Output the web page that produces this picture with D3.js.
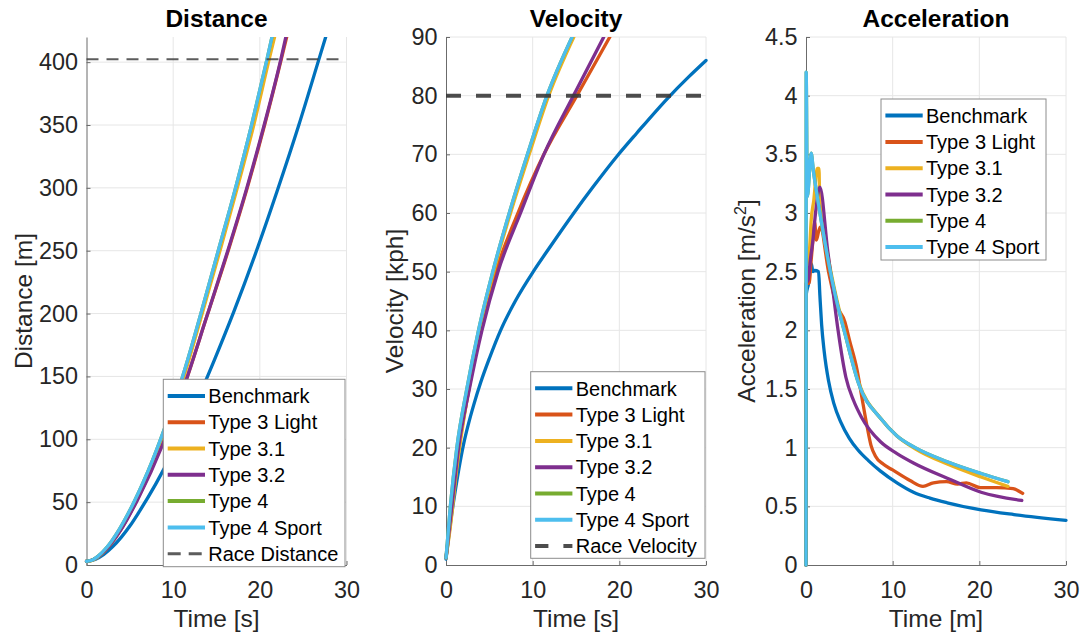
<!DOCTYPE html>
<html>
<head>
<meta charset="utf-8">
<script src="https://cdn.jsdelivr.net/npm/d3@7"></script>
<style>
  body { margin: 0; background: #fff; }
  svg { display: block; }
  text { font-family: "Liberation Sans", Arial, Helvetica, sans-serif; }
</style>
</head>
<body>
<svg id="chart" width="1083" height="637"></svg>
<script>
// ---- series ----
const seriesNames = ["Benchmark", "Type 3 Light", "Type 3.1", "Type 3.2", "Type 4", "Type 4 Sport"];
const seriesColors = ["#0072BD", "#D95319", "#EDB120", "#7E2F8E", "#77AC30", "#4DBEEE"];

// ---- tick values ----
const timeTicks = [0, 10, 20, 30];
const distTicks = [0, 50, 100, 150, 200, 250, 300, 350, 400];
const velTicks = [0, 10, 20, 30, 40, 50, 60, 70, 80, 90];
const accTicks = [0, 0.5, 1, 1.5, 2, 2.5, 3, 3.5, 4, 4.5];

// ---- reference targets ----
const raceDistance = 402.3;   // m
const raceVelocity = 80;      // kph

// ---- distance [m] vs time [s] ----
const distBenchmark = [[0,3],[1,4.5],[2,8.5],[3,14.5],[4,22],[5,31],[6,41.5],[8,64.5],[10.7,100],[12,119],[14.75,163],[17,201.5],[19.8,253.5],[22,297.5],[24.5,350],[26.85,403],[27.6,420]];
const distType3Light = [[0,3],[0.68,4],[1.45,7.1],[2.65,15.3],[3.95,28],[5.7,50],[8.4,91],[11.3,143],[13.85,197],[16.35,250],[18.55,300],[20.55,350],[22.5,403],[23.1,420]];
const distType31 = [[0,3],[0.5,3.3],[1.25,6],[2.4,13.8],[3.8,27.5],[5.5,49],[7.7,83],[9.7,119],[11.2,149],[13.35,200],[15.4,250],[17.4,300],[19.3,350],[21.1,403],[21.7,420]];
const distType32 = [[0,3],[0.68,4],[1.45,7.3],[2.7,16],[4.15,30],[5.9,52],[8.8,96],[11.3,143],[13.8,196],[16.3,250],[18.5,300],[20.5,350],[22.45,403],[23.0,420]];
const distType4 = [[0,3],[0.5,3.4],[1.25,6.5],[2.4,14.5],[3.75,28],[5.4,49],[7.6,83],[9.5,118],[11,148],[13.2,200],[15.2,250],[17.2,300],[19.05,350],[20.85,403],[21.4,420]];
const distType4Sport = [[0,3],[0.5,3.4],[1.25,6.5],[2.4,14.5],[3.75,28],[5.4,49],[7.6,83],[9.5,118],[11,148],[13.2,200],[15.2,250],[17.2,300],[19.05,350],[20.85,403],[21.4,420]];

// ---- velocity [kph] vs time [s] ----
const velBenchmark = [[0,1],[0.5,7],[1,12],[1.5,16.5],[2,20.4],[2.6,24.1],[3.2,27.3],[4,31.1],[5,35.2],[6.3,40],[8,45],[10.2,50.3],[12,54.2],[14.75,60],[17,64.5],[19.8,69.8],[22,73.6],[25.6,79.6],[28,83.2],[30,86]];
const velType3Light = [[0,1.2],[0.68,9.5],[1.45,19.5],[2.65,30],[3.95,40],[5.75,50],[8.3,60],[11.3,70],[15.1,80],[18.9,90]];
const velType31 = [[0,1.2],[0.5,6.5],[1.25,16.5],[2.45,28.5],[3.85,40],[5.5,50],[7.45,60],[9.6,70],[11.85,80],[14.75,90]];
const velType32 = [[0,1.2],[0.68,10],[1.45,20],[2.7,30],[4.15,40],[6.0,50],[8.6,60],[11.3,70],[14.7,80],[18.2,90]];
const velType4 = [[0,1.2],[0.5,10],[1.25,20],[2.4,30],[3.75,40],[5.4,50],[7.3,60],[9.4,70],[11.65,80],[14.55,90]];
const velType4Sport = [[0,1.2],[0.5,10],[1.25,20],[2.4,30],[3.75,40],[5.4,50],[7.3,60],[9.4,70],[11.65,80],[14.55,90]];

// ---- acceleration [m/s^2] vs time ----
const accBenchmark = [[0,0],[0.02,2.3],[0.3,2.4],[0.6,2.57],[0.8,2.5],[1.0,2.51],[1.45,2.5],[1.6,2.3],[1.8,2.05],[2.1,1.82],[2.6,1.57],[3.2,1.38],[4,1.22],[5,1.08],[6,0.98],[7.2,0.89],[8.6,0.8],[10.5,0.7],[12.4,0.62],[14.3,0.57],[16.3,0.53],[20.2,0.47],[24,0.43],[30,0.38]];
const accType3Light = [[0,0],[0.02,2.4],[0.35,2.4],[0.6,2.6],[0.8,2.77],[1.0,2.92],[1.2,2.77],[1.45,2.84],[1.65,2.88],[2.6,2.5],[3.5,2.22],[4.5,2.07],[5.0,1.92],[5.9,1.66],[6.4,1.45],[7.0,1.2],[7.5,1.02],[8.0,0.93],[8.9,0.86],[10,0.81],[12,0.72],[13.5,0.67],[14.7,0.70],[16.2,0.71],[17.5,0.69],[18.5,0.70],[20.1,0.66],[22,0.66],[23.9,0.65],[25,0.61]];
const accType31 = [[0,0],[0.02,2.5],[0.4,2.68],[0.6,2.94],[0.9,3.11],[1.3,3.38],[1.5,3.38],[1.58,3.12],[2.5,2.65],[3.5,2.28],[4.5,1.98],[6.1,1.55],[8.6,1.25],[10.5,1.1],[12.6,0.99],[16.3,0.86],[20.2,0.75],[23.3,0.67]];
const accType32 = [[0,0],[0.02,2.4],[0.25,2.43],[0.5,2.6],[0.8,2.77],[1.1,3.0],[1.6,3.22],[2.5,2.68],[3.0,2.4],[3.7,2.0],[4.6,1.6],[5.5,1.4],[6.4,1.26],[8.6,1.05],[10.5,0.95],[12.4,0.87],[16.3,0.74],[20.2,0.62],[24.9,0.55]];
const accType4 = [[0,0],[0.02,4.2],[0.15,3.14],[0.6,3.51],[0.85,3.36],[1.5,3.05],[2.5,2.62],[3.5,2.26],[4.5,1.97],[6.1,1.54],[8.6,1.25],[10.5,1.1],[12.6,1.0],[16.3,0.88],[20.2,0.78],[23.3,0.71]];
const accType4Sport = [[0,0],[0.02,4.2],[0.15,3.14],[0.6,3.51],[0.85,3.36],[1.5,3.05],[2.5,2.62],[3.5,2.26],[4.5,1.97],[6.1,1.54],[8.6,1.25],[10.5,1.1],[12.6,1.0],[16.3,0.88],[20.2,0.78],[23.3,0.71]];

// ---- layout ----
const TOP = 37, BOTTOM = 565, PW = 260;
const AXIS_COLOR = "#6b6b6b", TEXT_COLOR = "#262626", GRID_COLOR = "#e6e6e6";

const panels = [
  {
    left: 86.5, title: "Distance", ylabel: ["Distance [m]"], ylabelX: 32, xlabel: "Time [s]",
    yMax: 420, yTicks: distTicks,
    data: [distBenchmark, distType3Light, distType31, distType32, distType4, distType4Sport],
    ref: { value: raceDistance, label: "Race Distance", width: 2, dash: "12,8", legendDash: "13,8", color: "#404040", opacity: 0.85 },
    legend: { x: 163.3, y: 379.3, w: 181.7, h: 187.4 }
  },
  {
    left: 446, title: "Velocity", ylabel: ["Velocity [kph]"], ylabelX: 403, xlabel: "Time [s]",
    yMax: 90, yTicks: velTicks,
    data: [velBenchmark, velType3Light, velType31, velType32, velType4, velType4Sport],
    ref: { value: raceVelocity, label: "Race Velocity", width: 4, dash: "15,15", legendDash: "13.3,15", color: "#3a3a3a", opacity: 0.9 },
    legend: { x: 530.7, y: 371.7, w: 174.3, h: 186.6 }
  },
  {
    left: 806, title: "Acceleration", ylabel: null, ylabelX: 755, xlabel: "Time [m]",
    yMax: 4.5, yTicks: accTicks,
    data: [accBenchmark, accType3Light, accType31, accType32, accType4, accType4Sport],
    ref: null,
    legend: { x: 881, y: 99, w: 165, h: 161 }
  }
];

const svg = d3.select("#chart");
const defs = svg.append("defs");

panels.forEach((p, pi) => {
  const x = d3.scaleLinear().domain([0, 30]).range([p.left, p.left + PW]);
  const y = d3.scaleLinear().domain([0, p.yMax]).range([BOTTOM, TOP]);
  const g = svg.append("g");

  // grid
  g.append("g").selectAll("line").data(timeTicks.filter(t => t > 0)).join("line")
    .attr("x1", d => x(d)).attr("x2", d => x(d)).attr("y1", TOP).attr("y2", BOTTOM)
    .attr("stroke", GRID_COLOR).attr("stroke-width", 1);
  g.append("g").selectAll("line").data(p.yTicks.filter(t => t > 0)).join("line")
    .attr("x1", p.left).attr("x2", p.left + PW).attr("y1", d => y(d)).attr("y2", d => y(d))
    .attr("stroke", GRID_COLOR).attr("stroke-width", 1);

  // axes
  const xAxis = g.append("g").attr("transform", `translate(0,${BOTTOM})`)
    .call(d3.axisBottom(x).tickValues(timeTicks).tickSizeInner(-4).tickSizeOuter(0).tickPadding(16.5));
  const yAxis = g.append("g").attr("transform", `translate(${p.left},0)`)
    .call(d3.axisLeft(y).tickValues(p.yTicks).tickFormat(d => String(d)).tickSizeInner(-4).tickSizeOuter(0).tickPadding(8.5));
  [xAxis, yAxis].forEach(a => {
    a.attr("font-family", null).attr("font-size", null);
    a.select(".domain").attr("stroke", AXIS_COLOR).attr("stroke-width", 1);
    a.selectAll(".tick line").attr("stroke", AXIS_COLOR);
    a.selectAll(".tick text").attr("fill", TEXT_COLOR).style("font-size", "23.4px");
  });

  // clip so curves stop at the top of the axes
  const clipId = "clip" + pi;
  defs.append("clipPath").attr("id", clipId).append("rect")
    .attr("x", p.left - 6).attr("y", TOP).attr("width", PW + 12).attr("height", BOTTOM - TOP + 6);

  const line = d3.line().x(d => x(d[0])).y(d => y(d[1])).curve(d3.curveMonotoneX);
  const plot = g.append("g").attr("clip-path", `url(#${clipId})`);
  p.data.forEach((series, i) => {
    plot.append("path").datum(series)
      .attr("d", line)
      .attr("fill", "none")
      .attr("stroke", seriesColors[i])
      .attr("stroke-width", 3.3)
      .attr("stroke-linejoin", "round")
      .attr("stroke-linecap", "round");
  });

  // reference line
  if (p.ref) {
    plot.append("line")
      .attr("x1", x(0)).attr("x2", x(30)).attr("y1", y(p.ref.value)).attr("y2", y(p.ref.value))
      .attr("stroke", p.ref.color).attr("stroke-opacity", p.ref.opacity)
      .attr("stroke-width", p.ref.width).attr("stroke-dasharray", p.ref.dash);
  }

  // title
  svg.append("text")
    .attr("x", p.left + PW / 2).attr("y", 27)
    .attr("text-anchor", "middle").attr("font-weight", "bold")
    .style("font-size", "24.5px").attr("fill", "#000")
    .text(p.title);

  // x label
  svg.append("text")
    .attr("x", p.left + PW / 2).attr("y", 627)
    .attr("text-anchor", "middle").style("font-size", "24.5px").attr("fill", TEXT_COLOR)
    .text(p.xlabel);

  // y label
  const yl = svg.append("text")
    .attr("transform", `translate(${p.ylabelX},${(TOP + BOTTOM) / 2}) rotate(-90)`)
    .attr("text-anchor", "middle").style("font-size", "24.5px").attr("fill", TEXT_COLOR);
  if (p.ylabel) {
    yl.text(p.ylabel[0]);
  } else {
    yl.append("tspan").text("Acceleration [m/s");
    yl.append("tspan").attr("dy", -9).style("font-size", "16px").text("2");
    yl.append("tspan").attr("dy", 9).text("]");
  }

  // legend
  const L = p.legend;
  const lg = svg.append("g");
  lg.append("rect").attr("x", L.x).attr("y", L.y).attr("width", L.w).attr("height", L.h)
    .attr("fill", "#fff").attr("stroke", "#8c8c8c").attr("stroke-width", 1);
  const entries = seriesNames.map((n, i) => ({ name: n, color: seriesColors[i], dash: null, width: 4, opacity: 1 }));
  if (p.ref) entries.push({ name: p.ref.label, color: p.ref.color, dash: p.ref.legendDash, width: p.ref.width + (p.ref.width < 3 ? 1 : 0), opacity: p.ref.opacity });
  entries.forEach((e, i) => {
    const cy = L.y + 16.6 + i * 26.3;
    lg.append("line")
      .attr("x1", L.x + 4.4).attr("x2", L.x + 41.7).attr("y1", cy).attr("y2", cy)
      .attr("stroke", e.color).attr("stroke-width", e.width).attr("stroke-opacity", e.opacity)
      .attr("stroke-dasharray", e.dash);
    lg.append("text")
      .attr("x", L.x + 45).attr("y", cy).attr("dy", "0.36em")
      .style("font-size", "20px").attr("fill", "#000")
      .text(e.name);
  });
});
</script>
</body>
</html>
